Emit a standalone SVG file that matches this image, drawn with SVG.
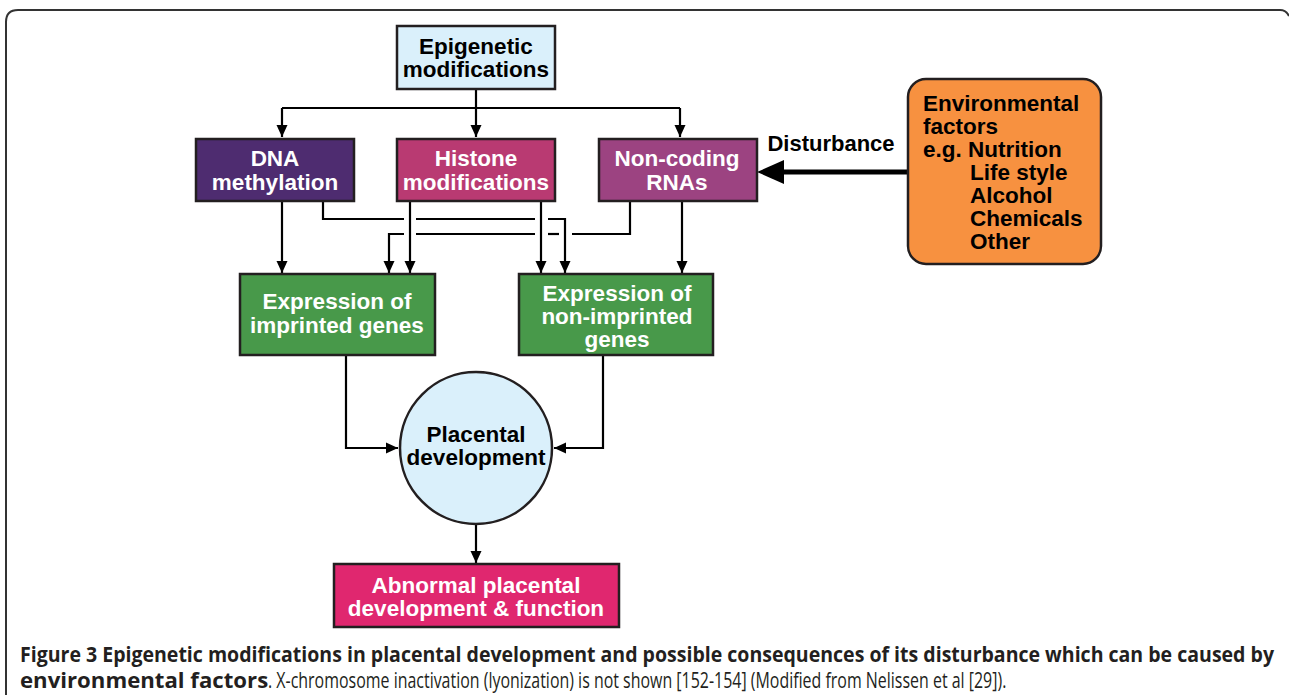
<svg xmlns="http://www.w3.org/2000/svg" width="1289" height="695" viewBox="0 0 1289 695">
<defs>
<style>
.box{stroke:#231f20;stroke-width:2.5}
.t{font-family:"Liberation Sans",Arial,Helvetica,sans-serif;font-weight:bold;font-size:22.5px;text-anchor:middle}
.s{text-anchor:start}
.w{fill:#ffffff}
.k{fill:#000000}
.ln{fill:none;stroke:#000;stroke-width:2.2}
.cap{font-family:"Open Sans","Liberation Sans",sans-serif;font-size:21px;fill:#231f20}
</style>
<marker id="ah" markerUnits="userSpaceOnUse" markerWidth="12" markerHeight="14" viewBox="0 0 12 14" refX="12" refY="7" orient="auto">
<path d="M0,1.5 L12,7 L0,12.5 Z" fill="#000"/>
</marker>
</defs>
<rect width="1289" height="695" fill="#fff"/>
<path d="M6,695 L6,22 Q6,10 18,10 L1280,10 Q1286,10 1289,16" fill="none" stroke="#333" stroke-width="2"/>

<g id="connectors">
<path class="ln" d="M476,89 L476,137" marker-end="url(#ah)"/>
<path class="ln" d="M282,108 L680,108"/>
<path class="ln" d="M282,108 L282,137" marker-end="url(#ah)"/>
<path class="ln" d="M680,108 L680,137" marker-end="url(#ah)"/>

<path class="ln" d="M282,201 L282,273" marker-end="url(#ah)"/>
<path class="ln" d="M410,201 L410,273" marker-end="url(#ah)"/>
<path class="ln" d="M541,201 L541,273" marker-end="url(#ah)"/>
<path class="ln" d="M682,201 L682,273" marker-end="url(#ah)"/>
<path class="ln" d="M323,201 L323,219 L404,219"/>
<path class="ln" d="M416,219 L535,219"/>
<path class="ln" d="M548,219 L565,219 L565,273" marker-end="url(#ah)"/>
<path class="ln" d="M630,201 L630,234 L572,234"/>
<path class="ln" d="M559,234 L548,234"/>
<path class="ln" d="M535,234 L416,234"/>
<path class="ln" d="M404,234 L389,234 L389,273" marker-end="url(#ah)"/>

<path class="ln" d="M346,356 L346,448 L398,448" marker-end="url(#ah)"/>
<path class="ln" d="M603,356 L603,448 L554,448" marker-end="url(#ah)"/>
<path class="ln" d="M476,524 L476,563" marker-end="url(#ah)"/>

<path d="M908,172 L780,172" fill="none" stroke="#000" stroke-width="5"/>
<path d="M757,172 L784,160 L784,184 Z" fill="#000"/>
<text class="t k" style="font-size:22px" x="831" y="151">Disturbance</text>
</g>

<g id="epigenetic">
<rect class="box" x="397" y="26" width="158" height="63" fill="#daf0fb"/>
<text class="t k" x="476" y="54">Epigenetic</text>
<text class="t k" x="476" y="77">modifications</text>
</g>

<g id="dna">
<rect class="box" x="196" y="139" width="158" height="62" fill="#4e2c70"/>
<text class="t w" x="275" y="166">DNA</text>
<text class="t w" x="275" y="190">methylation</text>
</g>

<g id="histone">
<rect class="box" x="397" y="139" width="158" height="62" fill="#b93a72"/>
<text class="t w" x="476" y="166">Histone</text>
<text class="t w" x="476" y="190">modifications</text>
</g>

<g id="noncoding">
<rect class="box" x="599" y="139" width="158" height="62" fill="#9c4381"/>
<text class="t w" x="677" y="166">Non-coding</text>
<text class="t w" x="677" y="190">RNAs</text>
</g>

<g id="environment">
<rect class="box" x="908" y="79" width="193" height="185" rx="18" ry="18" fill="#f79140"/>
<text class="t k s" x="923" y="111">Environmental</text>
<text class="t k s" x="923" y="134">factors</text>
<text class="t k s" x="923" y="157">e.g. Nutrition</text>
<text class="t k s" x="970" y="180">Life style</text>
<text class="t k s" x="970" y="203">Alcohol</text>
<text class="t k s" x="970" y="226">Chemicals</text>
<text class="t k s" x="970" y="249">Other</text>
</g>

<g id="imprinted">
<rect class="box" x="240" y="274" width="195" height="81" fill="#48994a"/>
<text class="t w" x="337" y="309">Expression of</text>
<text class="t w" x="337" y="333">imprinted genes</text>
</g>

<g id="nonimprinted">
<rect class="box" x="519" y="274" width="194" height="81" fill="#48994a"/>
<text class="t w" x="617" y="301">Expression of</text>
<text class="t w" x="617" y="324">non-imprinted</text>
<text class="t w" x="617" y="347">genes</text>
</g>

<g id="placental">
<circle cx="476" cy="448" r="76" fill="#daf0fb" stroke="#231f20" stroke-width="2.5"/>
<text class="t k" x="476" y="442">Placental</text>
<text class="t k" x="476" y="465">development</text>
</g>

<g id="abnormal">
<rect class="box" x="334" y="564" width="285" height="63" fill="#e0276f"/>
<text class="t w" x="476" y="593">Abnormal placental</text>
<text class="t w" x="476" y="616">development &amp; function</text>
</g>

<g id="caption">
<g transform="translate(20,662) scale(0.88,1)">
<text class="cap" font-weight="bold" x="0" y="0" textLength="1425" lengthAdjust="spacingAndGlyphs">Figure 3 Epigenetic modifications in placental development and possible consequences of its disturbance which can be caused by</text>
</g>
<g transform="translate(20,688) scale(0.88,1)">
<text class="cap" font-weight="bold" x="0" y="0" textLength="282" lengthAdjust="spacingAndGlyphs">environmental factors</text>
</g>
<g transform="translate(268,688) scale(0.88,1)">
<text class="cap" x="0" y="0" textLength="839" lengthAdjust="spacingAndGlyphs">. X-chromosome inactivation (lyonization) is not shown [152-154] (Modified from Nelissen et al [29]).</text>
</g>
</g>
</svg>
